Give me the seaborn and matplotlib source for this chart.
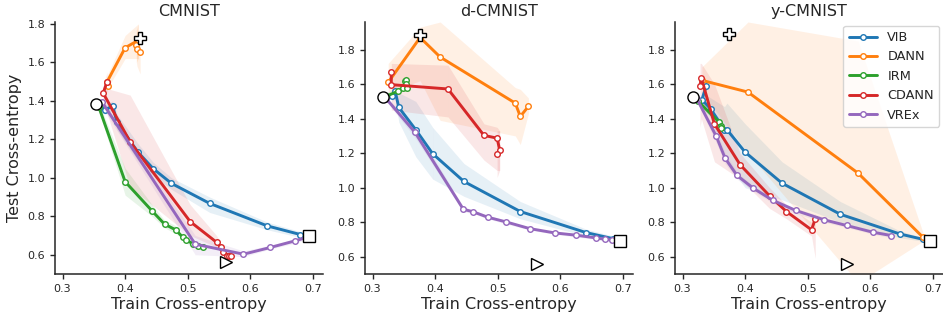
import numpy as np
import pandas as pd
import matplotlib
matplotlib.use("Agg")
import matplotlib.pyplot as plt
import seaborn as sns

# ---------------- data ----------------
datasets = ["CMNIST", "d-CMNIST", "y-CMNIST"]
methods = ["VIB", "DANN", "IRM", "CDANN", "VREx"]

# CMNIST
cm_vib_x = [0.360, 0.368, 0.380, 0.387, 0.420, 0.445, 0.474, 0.535, 0.627, 0.680]
cm_vib_y = [1.370, 1.354, 1.373, 1.290, 1.135, 1.047, 0.971, 0.867, 0.750, 0.705]
cm_vib_lo = [1.34, 1.33, 1.35, 1.25, 1.09, 1.01, 0.94, 0.82, 0.73, 0.69]
cm_vib_hi = [1.40, 1.38, 1.40, 1.33, 1.18, 1.08, 1.00, 0.90, 0.77, 0.72]
cm_dann_x = [0.372, 0.371, 0.400, 0.421, 0.418, 0.419, 0.424]
cm_dann_y = [1.475, 1.498, 1.676, 1.715, 1.688, 1.670, 1.653]
cm_dann_lo = [1.44, 1.46, 1.62, 1.62, 1.60, 1.58, 1.54]
cm_dann_hi = [1.51, 1.53, 1.74, 1.80, 1.77, 1.76, 1.75]
cm_irm_x = [0.358, 0.400, 0.443, 0.463, 0.481, 0.492, 0.498, 0.508, 0.517, 0.525]
cm_irm_y = [1.368, 0.980, 0.828, 0.759, 0.729, 0.691, 0.677, 0.657, 0.645, 0.640]
cm_irm_lo = [1.35, 0.91, 0.80, 0.74, 0.71, 0.68, 0.66, 0.64, 0.63, 0.63]
cm_irm_hi = [1.39, 1.05, 0.86, 0.78, 0.75, 0.70, 0.69, 0.67, 0.66, 0.65]
cm_cdann_x = [0.371, 0.365, 0.408, 0.504, 0.546, 0.553, 0.557, 0.562, 0.566, 0.569]
cm_cdann_y = [1.500, 1.440, 1.187, 0.772, 0.665, 0.638, 0.613, 0.596, 0.594, 0.596]
cm_cdann_lo = [1.45, 1.40, 0.95, 0.70, 0.64, 0.62, 0.60, 0.59, 0.585, 0.59]
cm_cdann_hi = [1.55, 1.47, 1.43, 0.86, 0.70, 0.66, 0.63, 0.605, 0.60, 0.60]
cm_vrex_x = [0.363, 0.512, 0.589, 0.632, 0.671, 0.690]
cm_vrex_y = [1.394, 0.655, 0.603, 0.638, 0.672, 0.690]
cm_vrex_lo = [1.37, 0.60, 0.59, 0.63, 0.66, 0.68]
cm_vrex_hi = [1.41, 0.70, 0.62, 0.65, 0.68, 0.70]

# d-CMNIST
dc_vib_x = [0.331, 0.336, 0.342, 0.369, 0.396, 0.446, 0.536, 0.641, 0.684]
dc_vib_y = [1.530, 1.562, 1.465, 1.336, 1.197, 1.036, 0.862, 0.740, 0.705]
dc_vib_lo = [1.50, 1.52, 1.38, 1.18, 1.05, 0.95, 0.82, 0.72, 0.69]
dc_vib_hi = [1.56, 1.60, 1.55, 1.50, 1.35, 1.14, 0.92, 0.76, 0.72]
dc_dann_x = [0.325, 0.376, 0.408, 0.528, 0.536, 0.549]
dc_dann_y = [1.610, 1.870, 1.757, 1.490, 1.413, 1.471]
dc_dann_lo = [1.55, 1.62, 1.39, 1.30, 1.25, 1.43]
dc_dann_hi = [1.72, 1.93, 1.96, 1.58, 1.57, 1.52]
dc_irm_x = [0.322, 0.340, 0.349, 0.352, 0.354, 0.353, 0.355]
dc_irm_y = [1.530, 1.558, 1.578, 1.616, 1.626, 1.600, 1.580]
dc_irm_lo = [1.51, 1.54, 1.56, 1.59, 1.60, 1.58, 1.56]
dc_irm_hi = [1.55, 1.58, 1.60, 1.64, 1.65, 1.62, 1.60]
dc_cdann_x = [0.330, 0.330, 0.4205, 0.478, 0.499, 0.503, 0.499]
dc_cdann_y = [1.670, 1.597, 1.572, 1.303, 1.287, 1.220, 1.196]
dc_cdann_lo = [1.60, 1.45, 1.41, 1.16, 1.10, 1.10, 1.06]
dc_cdann_hi = [1.74, 1.72, 1.71, 1.37, 1.35, 1.33, 1.33]
dc_vrex_x = [0.322, 0.368, 0.445, 0.461, 0.484, 0.513, 0.551, 0.591, 0.625, 0.657, 0.672, 0.682, 0.690]
dc_vrex_y = [1.515, 1.320, 0.875, 0.860, 0.829, 0.802, 0.763, 0.738, 0.725, 0.709, 0.701, 0.697, 0.695]
dc_vrex_lo = [1.50, 1.29, 0.86, 0.85, 0.82, 0.79, 0.755, 0.73, 0.715, 0.70, 0.69, 0.69, 0.69]
dc_vrex_hi = [1.53, 1.35, 0.89, 0.87, 0.84, 0.81, 0.77, 0.745, 0.735, 0.715, 0.71, 0.705, 0.70]

# y-CMNIST
yc_vib_x = [0.338, 0.331, 0.345, 0.367, 0.371, 0.400, 0.459, 0.552, 0.647, 0.684]
yc_vib_y = [1.591, 1.510, 1.456, 1.336, 1.336, 1.206, 1.026, 0.846, 0.732, 0.701]
yc_vib_lo = [1.55, 1.47, 1.40, 1.20, 1.14, 1.00, 0.93, 0.80, 0.71, 0.69]
yc_vib_hi = [1.63, 1.55, 1.52, 1.47, 1.49, 1.37, 1.15, 0.92, 0.75, 0.71]
yc_dann_x = [0.331, 0.4045, 0.5805, 0.684]
yc_dann_y = [1.622, 1.554, 1.084, 0.713]
yc_dann_lo = [1.55, 1.20, 0.45, 0.69]
yc_dann_hi = [1.70, 1.96, 1.85, 0.74]
yc_irm_x = [0.325, 0.359, 0.362, 0.360, 0.361]
yc_irm_y = [1.500, 1.378, 1.360, 1.350, 1.345]
yc_irm_lo = [1.48, 1.36, 1.34, 1.33, 1.33]
yc_irm_hi = [1.52, 1.40, 1.38, 1.37, 1.36]
yc_cdann_x = [0.328, 0.330, 0.351, 0.392, 0.439, 0.466, 0.506, 0.512]
yc_cdann_y = [1.590, 1.636, 1.369, 1.133, 0.953, 0.862, 0.756, 0.819]
yc_cdann_lo = [1.35, 1.40, 1.15, 1.05, 0.88, 0.82, 0.72, 0.59]
yc_cdann_hi = [1.72, 1.72, 1.60, 1.20, 1.00, 0.90, 0.80, 0.85]
yc_vrex_x = [0.323, 0.354, 0.368, 0.387, 0.413, 0.4445, 0.481, 0.526, 0.562, 0.604, 0.633]
yc_vrex_y = [1.515, 1.297, 1.171, 1.071, 0.997, 0.926, 0.868, 0.814, 0.781, 0.742, 0.723]
yc_vrex_lo = [1.50, 1.26, 1.14, 1.05, 0.98, 0.91, 0.85, 0.80, 0.77, 0.73, 0.71]
yc_vrex_hi = [1.53, 1.33, 1.20, 1.09, 1.01, 0.94, 0.88, 0.83, 0.79, 0.755, 0.735]

# reference markers (circle, plus, square, right triangle)
cm_ref_x = [0.354, 0.423, 0.694, 0.561]
cm_ref_y = [1.382, 1.727, 0.695, 0.560]
dc_ref_x = [0.317, 0.376, 0.696, 0.563]
dc_ref_y = [1.525, 1.883, 0.694, 0.558]
yc_ref_x = [0.317, 0.375, 0.695, 0.562]
yc_ref_y = [1.525, 1.889, 0.694, 0.558]
ref_markers = ["o", "P", "s", ">"]

ylims = [(0.5, 1.81), (0.5, 1.96), (0.5, 1.96)]
yticks = [[0.6, 0.8, 1.0, 1.2, 1.4, 1.6, 1.8]] * 3
xticks = [0.3, 0.4, 0.5, 0.6, 0.7]

# ---------------- assemble ----------------
raw = {
    "CMNIST": {"VIB": (cm_vib_x, cm_vib_y, cm_vib_lo, cm_vib_hi),
               "DANN": (cm_dann_x, cm_dann_y, cm_dann_lo, cm_dann_hi),
               "IRM": (cm_irm_x, cm_irm_y, cm_irm_lo, cm_irm_hi),
               "CDANN": (cm_cdann_x, cm_cdann_y, cm_cdann_lo, cm_cdann_hi),
               "VREx": (cm_vrex_x, cm_vrex_y, cm_vrex_lo, cm_vrex_hi)},
    "d-CMNIST": {"VIB": (dc_vib_x, dc_vib_y, dc_vib_lo, dc_vib_hi),
                 "DANN": (dc_dann_x, dc_dann_y, dc_dann_lo, dc_dann_hi),
                 "IRM": (dc_irm_x, dc_irm_y, dc_irm_lo, dc_irm_hi),
                 "CDANN": (dc_cdann_x, dc_cdann_y, dc_cdann_lo, dc_cdann_hi),
                 "VREx": (dc_vrex_x, dc_vrex_y, dc_vrex_lo, dc_vrex_hi)},
    "y-CMNIST": {"VIB": (yc_vib_x, yc_vib_y, yc_vib_lo, yc_vib_hi),
                 "DANN": (yc_dann_x, yc_dann_y, yc_dann_lo, yc_dann_hi),
                 "IRM": (yc_irm_x, yc_irm_y, yc_irm_lo, yc_irm_hi),
                 "CDANN": (yc_cdann_x, yc_cdann_y, yc_cdann_lo, yc_cdann_hi),
                 "VREx": (yc_vrex_x, yc_vrex_y, yc_vrex_lo, yc_vrex_hi)},
}
refs = {"CMNIST": (cm_ref_x, cm_ref_y), "d-CMNIST": (dc_ref_x, dc_ref_y),
        "y-CMNIST": (yc_ref_x, yc_ref_y)}

rows = []
for ds, d in raw.items():
    for m, (xs, ys, lo, hi) in d.items():
        for i, (a, b, c, e) in enumerate(zip(xs, ys, lo, hi)):
            rows.append(dict(dataset=ds, method=m, order=i, x=a, y=b, lo=c, hi=e))
df = pd.DataFrame(rows)

# ---------------- plot ----------------
sns.set_style("ticks")
plt.rcParams["font.family"] = ["DejaVu Sans"]
palette = dict(zip(methods, sns.color_palette("tab10", 5)))

fig = plt.figure(figsize=(9.43, 3.19), dpi=100)
W, H = 943, 319
lefts = [55, 365, 675]
axw = 268
for k, ds in enumerate(datasets):
    ax = fig.add_axes([lefts[k] / W, (H - 274) / H, axw / W, (274 - 22) / H])
    sub = df[df.dataset == ds]
    for m in methods:
        s = sub[sub.method == m].sort_values("order")
        c = palette[m]
        xs, lo, hi = s.x.values, s.lo.values, s.hi.values
        for i in range(len(xs) - 1):
            ax.fill_between(xs[i:i + 2], lo[i:i + 2], hi[i:i + 2], color=c,
                            alpha=0.11, lw=0, zorder=1)
    for m in methods:
        s = sub[sub.method == m].sort_values("order")
        c = palette[m]
        sns.lineplot(data=s, x="x", y="y", sort=False, estimator=None, ax=ax,
                     color=c, lw=2.1, marker="o", markersize=4,
                     markerfacecolor="white", markeredgecolor=c,
                     markeredgewidth=1.0, label=m, legend=False, zorder=3)
    rx, ry = refs[ds]
    for xx, yy, mk in zip(rx, ry, ref_markers):
        ax.plot([xx], [yy], marker=mk, ls="none", ms=8 if mk != "P" else 8.5,
                mfc="white", mec="black", mew=1.0, zorder=6, clip_on=False)
    ax.set_xlim(0.288, 0.716)
    ax.set_ylim(*ylims[k])
    ax.set_xticks(xticks)
    ax.set_yticks(yticks[k])
    ax.set_xticklabels([f"{t:.1f}" for t in xticks])
    ax.set_yticklabels([f"{t:.1f}" for t in yticks[k]])
    ax.tick_params(labelsize=8, length=3.5, width=1.0, color="0.15")
    ax.set_title(ds, fontsize=11.5, pad=4)
    ax.set_xlabel("Train Cross-entropy", fontsize=11.5, labelpad=2)
    ax.set_ylabel("Test Cross-entropy" if k == 0 else "", fontsize=11.5)
    for sp in ["left", "bottom"]:
        ax.spines[sp].set_color("0.15")
        ax.spines[sp].set_linewidth(1.1)
    sns.despine(ax=ax)
    if k == 2:
        handles = [plt.Line2D([], [], color=palette[m], lw=2.1, marker="o", ms=4,
                              mfc="white", mec=palette[m], mew=1.0) for m in methods]
        ax.legend(handles, methods, loc="upper right", fontsize=9.3,
                  borderaxespad=0.3, handlelength=2.2, frameon=True)

fig.savefig("out.png", dpi=100)
